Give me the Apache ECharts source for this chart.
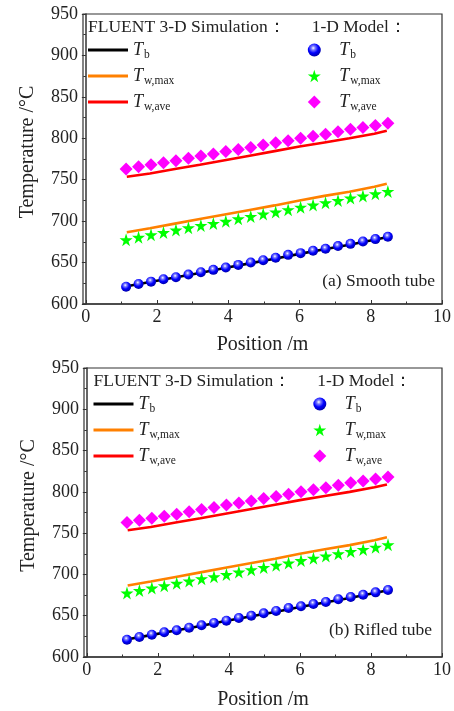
<!DOCTYPE html>
<html>
<head>
<meta charset="utf-8" />
<script src="https://cdn.jsdelivr.net/npm/echarts@6/dist/echarts.min.js"></script>
<style>
  html, body { margin: 0; padding: 0; background: #fff; }
  #chart { width: 454px; height: 711px; }
</style>
</head>
<body>
<div id="chart"></div>
<script>
// 1-D model points (same positions for all three series)
const modelX = [1.13, 1.48, 1.83, 2.18, 2.53, 2.88, 3.23, 3.58, 3.93, 4.28, 4.63,
  4.98, 5.33, 5.68, 6.03, 6.38, 6.73, 7.08, 7.43, 7.78, 8.13, 8.48];
const modelTb = [620.9, 624.2, 627, 629.9, 632.3, 635.5, 638.4, 641.2, 644, 647.2, 650,
  652.9, 655.8, 659.3, 661.4, 664.2, 666.6, 669.9, 672.6, 675.4, 678.3, 681.1];
const modelTwMax = [677.5, 680.5, 683.5, 686.3, 689.2, 692, 694.8, 697.2, 699.8, 702.8, 705.7,
  708.5, 711, 713.8, 716.8, 719.5, 722.3, 725, 727.8, 730.3, 733, 735.8];
const modelTwAve = [763, 765.5, 768, 770.5, 773, 776, 778.5, 781, 784, 786.5, 789,
  792, 794.5, 797, 800, 802.5, 805, 808, 811, 813, 815.5, 818];

// FLUENT 3-D simulation curves
const simX = [1.15, 1.8, 2.5, 3.2, 3.9, 4.6, 5.3, 6.0, 6.7, 7.4, 8.1, 8.45];
const simTb = [621.5, 626.5, 632, 637.5, 643.5, 649, 654.5, 660.5, 666, 671.5, 677.5, 680.5];
const simTwMax = [686.5, 691.5, 697, 702.5, 708, 713.5, 719, 725, 730.5, 735.5, 741.5, 745];
const simTwAve = [753.5, 757.5, 763, 768, 773.5, 779, 784.5, 790, 795, 800, 805.5, 809];

const xTicks = [0, 2, 4, 6, 8, 10];
const xMinorTicks = [1, 3, 5, 7, 9];
const panelLabels = ['(a) Smooth tube', '(b) Rifled tube'];

const FONT = 'Liberation Serif';
const INK = '#222';
const STAR = 'path://M50,0 L61,35 L98,35 L68,57 L79,91 L50,70 L21,91 L32,57 L2,35 L39,35 Z';
const SPHERE = {
  type: 'radial', x: 0.42, y: 0.35, r: 0.7,
  colorStops: [
    { offset: 0, color: '#ffffff' },
    { offset: 0.22, color: '#7a7aff' },
    { offset: 0.55, color: '#0000ff' },
    { offset: 1, color: '#00009a' }
  ]
};

const pairs = (xs, ys) => xs.map((x, i) => [x, ys[i]]);

const legendNames = {
  simB: '{t|T}{s|b}', simMax: '{t|T}{s|w,max}', simAve: '{t|T}{s|w,ave}',
  modB: '{t|T}{s|b}', modMax: '{t|T}{s|w,max}', modAve: '{t|T}{s|w,ave}'
};
const richFor = (lead) => ({
  t: { fontFamily: FONT, fontStyle: 'italic', fontSize: 18, lineHeight: 22, color: INK, padding: [0, 0, 0, lead] },
  s: { fontFamily: FONT, fontSize: 11.5, lineHeight: 12, padding: [10, 0, 0, 1], color: INK }
});

const panels = [
  { top: 14, left: 83, right: 12, height: 290, dx: 0, nameGap: 31 },
  { top: 368, left: 84, right: 11, height: 289, dx: 5.5, nameGap: 33 }
];

const grid = [], xAxis = [], yAxis = [], series = [], legend = [], graphic = [];

panels.forEach((p, k) => {
  grid.push({
    left: p.left, right: p.right, top: p.top, height: p.height,
    show: true, borderColor: '#333', borderWidth: 1.2, backgroundColor: 'transparent'
  });

  xAxis.push({
    gridIndex: k, type: 'value', min: -0.08, max: 10, position: 'bottom',
    name: 'Position /m', nameLocation: 'middle', nameGap: p.nameGap,
    nameTextStyle: { fontFamily: FONT, fontSize: 20, color: INK },
    axisLine: { onZero: false, lineStyle: { color: '#333', width: 1.5 } },
    axisTick: { customValues: xTicks, inside: true, length: 4, lineStyle: { color: '#333' } },
    axisLabel: { customValues: xTicks, margin: 4, fontFamily: FONT, fontSize: 18, color: INK },
    splitLine: { show: false }
  });
  xAxis.push({
    gridIndex: k, type: 'value', min: -0.08, max: 10, position: 'bottom',
    axisLine: { show: false },
    axisTick: { customValues: xMinorTicks, inside: true, length: 2.5, lineStyle: { color: '#333' } },
    axisLabel: { show: false },
    splitLine: { show: false }
  });

  yAxis.push({
    gridIndex: k, type: 'value', min: 600, max: 950, interval: 50,
    name: 'Temperature /°C', nameLocation: 'middle', nameGap: 45,
    nameTextStyle: { fontFamily: FONT, fontSize: 20, color: INK, padding: [0, 0, 0, 14] },
    axisLine: { show: true, lineStyle: { color: '#333', width: 1.5 } },
    axisTick: { show: true, length: 4, lineStyle: { color: '#333' } },
    minorTick: { show: true, splitNumber: 2, length: 2.5, lineStyle: { color: '#333' } },
    axisLabel: { margin: 5, fontFamily: FONT, fontSize: 18, color: INK },
    splitLine: { show: false }
  });

  const xi = k * 2;
  const line = (name, ys, color) => ({
    name, type: 'line', xAxisIndex: xi, yAxisIndex: k, data: pairs(simX, ys),
    symbol: 'none', lineStyle: { color, width: 2.6 }, itemStyle: { color }, z: 2
  });
  series.push(line('simB', simTb, '#000000'));
  series.push(line('simMax', simTwMax, '#ff8000'));
  series.push(line('simAve', simTwAve, '#ff0000'));
  series.push({
    name: 'modB', type: 'scatter', xAxisIndex: xi, yAxisIndex: k, data: pairs(modelX, modelTb),
    symbol: 'circle', symbolSize: 10, itemStyle: { color: SPHERE, opacity: 1 }, z: 3
  });
  series.push({
    name: 'modMax', type: 'scatter', xAxisIndex: xi, yAxisIndex: k, data: pairs(modelX, modelTwMax),
    symbol: STAR, symbolSize: 13, itemStyle: { color: '#00ff00', opacity: 1 }, z: 3
  });
  series.push({
    name: 'modAve', type: 'scatter', xAxisIndex: xi, yAxisIndex: k, data: pairs(modelX, modelTwAve),
    symbol: 'diamond', symbolSize: 13, itemStyle: { color: '#ff00ff', opacity: 1 }, z: 3
  });

  legend.push({
    left: 88 + p.dx, top: p.top + 25, orient: 'vertical', selectedMode: false, padding: 0,
    itemWidth: 40, itemHeight: 3, itemGap: 4, icon: 'rect',
    data: ['simB', 'simMax', 'simAve'],
    formatter: n => legendNames[n], textStyle: { rich: richFor(0) }
  });
  legend.push({
    left: 307.8 + p.dx, top: p.top + 25, orient: 'vertical', selectedMode: false, padding: 0,
    itemWidth: 13, itemHeight: 13, itemGap: 4,
    data: ['modB', 'modMax', 'modAve'],
    formatter: n => legendNames[n], textStyle: { rich: richFor(13.5) }
  });

  const font = '17.5px "' + FONT + '"';
  graphic.push({
    type: 'text', x: 88 + p.dx, y: p.top + 13,
    style: { text: 'FLUENT 3-D Simulation：', font, fill: INK, verticalAlign: 'middle', textVerticalAlign: 'middle' }
  });
  graphic.push({
    type: 'text', x: 311.7 + p.dx, y: p.top + 13,
    style: { text: '1-D Model：', font, fill: INK, verticalAlign: 'middle', textVerticalAlign: 'middle' }
  });
  graphic.push({
    type: 'text', x: k === 0 ? 435 : 432, y: k === 0 ? 281 : 630,
    style: { text: panelLabels[k], font, fill: INK, align: 'right', textAlign: 'right', verticalAlign: 'middle', textVerticalAlign: 'middle' }
  });
});

const chart = echarts.init(document.getElementById('chart'), null, { renderer: 'canvas' });
chart.setOption({
  animation: false,
  backgroundColor: '#fff',
  textStyle: { fontFamily: FONT },
  grid, xAxis, yAxis, series, legend, graphic
});
</script>
</body>
</html>
